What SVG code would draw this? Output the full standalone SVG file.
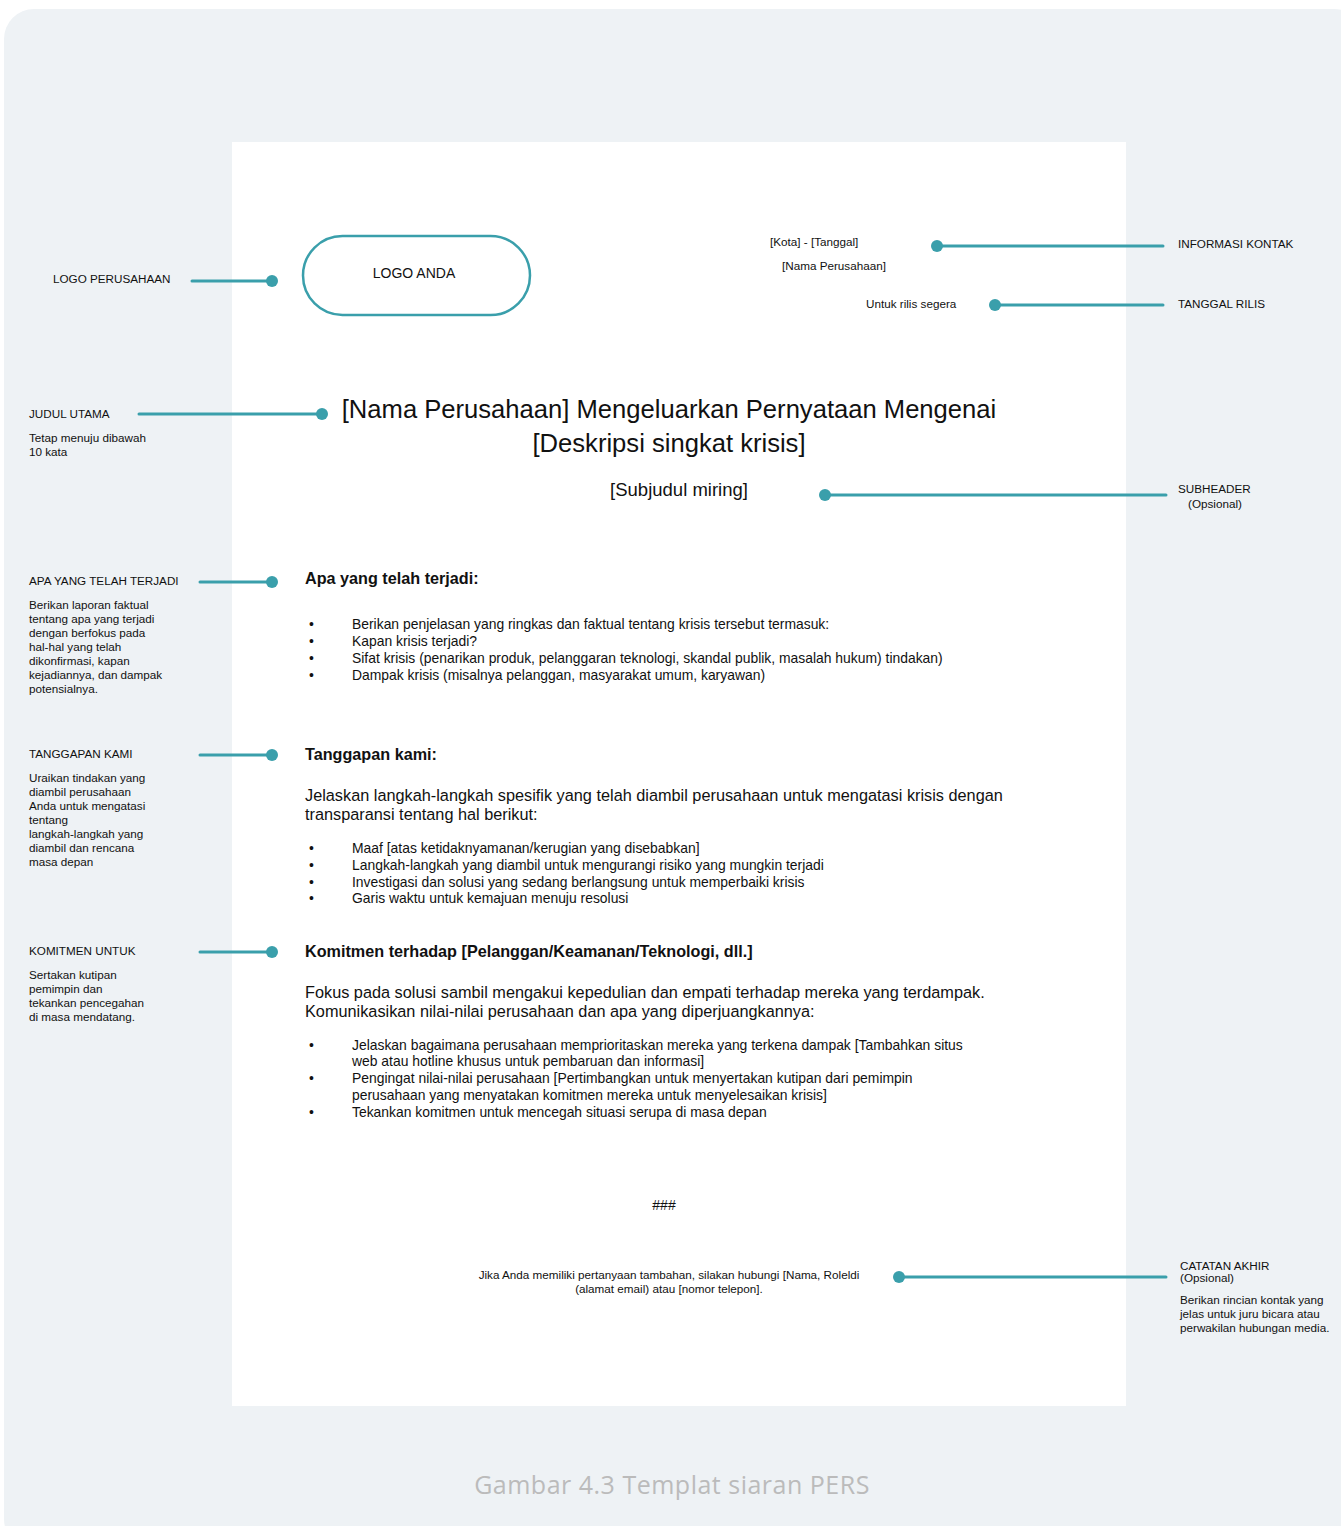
<svg xmlns="http://www.w3.org/2000/svg" width="1341" height="1526" viewBox="0 0 1341 1526">
  <style>
    text { font-family: "Liberation Sans", Arial, sans-serif; fill: #111; }
    .lbl { font-size: 11.7px; }
    .note { font-size: 11.7px; }
    .small { font-size: 11.7px; }
    .body { font-size: 13.9px; }
    .para { font-size: 16.3px; }
    .head { font-size: 16.2px; font-weight: bold; }
    .title { font-size: 25.6px; }
    .sub { font-size: 18.5px; }
    .caption { font-family: "Open Sans", "Noto Sans", sans-serif; font-size: 25px; fill: #BBBBBB; letter-spacing: 0.5px; }
    .conn line { stroke: #3A9FAB; stroke-width: 3; stroke-linecap: round; }
    .conn circle { fill: #3A9FAB; }
  </style>

  <!-- backdrop and page -->
  <rect x="4" y="9" width="1360" height="1540" rx="30" fill="#EEF2F5"/>
  <rect x="232" y="142" width="894" height="1264" fill="#FFFFFF"/>

  <!-- connectors -->
  <g id="connectors" class="conn">
    <line x1="192" y1="281" x2="272" y2="281"/><circle cx="272" cy="281" r="6"/>
    <line x1="937" y1="246" x2="1163" y2="246"/><circle cx="937" cy="246" r="6"/>
    <line x1="995" y1="305" x2="1163" y2="305"/><circle cx="995" cy="305" r="6"/>
    <line x1="139" y1="414" x2="322" y2="414"/><circle cx="322" cy="414" r="6"/>
    <line x1="825" y1="495" x2="1166" y2="495"/><circle cx="825" cy="495" r="6"/>
    <line x1="200" y1="582" x2="272" y2="582"/><circle cx="272" cy="582" r="6"/>
    <line x1="200" y1="755" x2="272" y2="755"/><circle cx="272" cy="755" r="6"/>
    <line x1="200" y1="952" x2="272" y2="952"/><circle cx="272" cy="952" r="6"/>
    <line x1="899" y1="1277" x2="1166" y2="1277"/><circle cx="899" cy="1277" r="6"/>
  </g>

  <!-- logo -->
  <g id="logo-perusahaan">
    <text class="lbl" x="53" y="283">LOGO PERUSAHAAN</text>
  </g>
  <g id="logo-anda">
    <rect x="303" y="236" width="227" height="79" rx="39.5" fill="#FFFFFF" stroke="#3A9FAB" stroke-width="2.5"/>
    <text x="414" y="278" font-size="14" text-anchor="middle">LOGO ANDA</text>
  </g>

  <!-- contact / date -->
  <g id="kontak">
    <text class="small" x="770" y="246">[Kota] - [Tanggal]</text>
    <text class="small" x="782" y="270">[Nama Perusahaan]</text>
  </g>
  <g id="informasi-kontak">
    <text class="lbl" x="1178" y="248">INFORMASI KONTAK</text>
  </g>
  <g id="rilis">
    <text class="small" x="866" y="308">Untuk rilis segera</text>
  </g>
  <g id="tanggal-rilis">
    <text class="lbl" x="1178" y="308">TANGGAL RILIS</text>
  </g>

  <!-- main title -->
  <g id="judul-utama">
    <text class="lbl" x="29" y="418">JUDUL UTAMA</text>
    <text class="note" x="29" y="442">Tetap menuju dibawah</text>
    <text class="note" x="29" y="456">10 kata</text>
  </g>
  <g id="judul">
    <text class="title" x="669" y="418" text-anchor="middle">[Nama Perusahaan] Mengeluarkan Pernyataan Mengenai</text>
    <text class="title" x="669" y="452" text-anchor="middle">[Deskripsi singkat krisis]</text>
  </g>

  <!-- subheader -->
  <g id="subjudul">
    <text class="sub" x="679" y="496" text-anchor="middle">[Subjudul miring]</text>
  </g>
  <g id="subheader">
    <text class="lbl" x="1178" y="493">SUBHEADER</text>
    <text class="lbl" x="1188" y="508">(Opsional)</text>
  </g>

  <!-- section 1 -->
  <g id="apa-yang-telah-terjadi">
    <text class="lbl" x="29" y="585">APA YANG TELAH TERJADI</text>
    <text class="note" x="29" y="609">Berikan laporan faktual</text>
    <text class="note" x="29" y="623">tentang apa yang terjadi</text>
    <text class="note" x="29" y="637">dengan berfokus pada</text>
    <text class="note" x="29" y="651">hal-hal yang telah</text>
    <text class="note" x="29" y="665">dikonfirmasi, kapan</text>
    <text class="note" x="29" y="679">kejadiannya, dan dampak</text>
    <text class="note" x="29" y="693">potensialnya.</text>
  </g>
  <g id="bagian-terjadi">
    <text class="head" x="305" y="584">Apa yang telah terjadi:</text>
    <g class="body">
      <text x="309" y="629">•</text><text x="352" y="629">Berikan penjelasan yang ringkas dan faktual tentang krisis tersebut termasuk:</text>
      <text x="309" y="646">•</text><text x="352" y="646">Kapan krisis terjadi?</text>
      <text x="309" y="663">•</text><text x="352" y="663">Sifat krisis (penarikan produk, pelanggaran teknologi, skandal publik, masalah hukum) tindakan)</text>
      <text x="309" y="680">•</text><text x="352" y="680">Dampak krisis (misalnya pelanggan, masyarakat umum, karyawan)</text>
    </g>
  </g>

  <!-- section 2 -->
  <g id="tanggapan-kami">
    <text class="lbl" x="29" y="758">TANGGAPAN KAMI</text>
    <text class="note" x="29" y="782">Uraikan tindakan yang</text>
    <text class="note" x="29" y="796">diambil perusahaan</text>
    <text class="note" x="29" y="810">Anda untuk mengatasi</text>
    <text class="note" x="29" y="824">tentang</text>
    <text class="note" x="29" y="838">langkah-langkah yang</text>
    <text class="note" x="29" y="852">diambil dan rencana</text>
    <text class="note" x="29" y="866">masa depan</text>
  </g>
  <g id="bagian-tanggapan">
    <text class="head" x="305" y="760">Tanggapan kami:</text>
    <text class="para" x="305" y="801">Jelaskan langkah-langkah spesifik yang telah diambil perusahaan untuk mengatasi krisis dengan</text>
    <text class="para" x="305" y="820">transparansi tentang hal berikut:</text>
    <g class="body">
      <text x="309" y="853">•</text><text x="352" y="853">Maaf [atas ketidaknyamanan/kerugian yang disebabkan]</text>
      <text x="309" y="870">•</text><text x="352" y="870">Langkah-langkah yang diambil untuk mengurangi risiko yang mungkin terjadi</text>
      <text x="309" y="887">•</text><text x="352" y="887">Investigasi dan solusi yang sedang berlangsung untuk memperbaiki krisis</text>
      <text x="309" y="903">•</text><text x="352" y="903">Garis waktu untuk kemajuan menuju resolusi</text>
    </g>
  </g>

  <!-- section 3 -->
  <g id="komitmen-untuk">
    <text class="lbl" x="29" y="955">KOMITMEN UNTUK</text>
    <text class="note" x="29" y="979">Sertakan kutipan</text>
    <text class="note" x="29" y="993">pemimpin dan</text>
    <text class="note" x="29" y="1007">tekankan pencegahan</text>
    <text class="note" x="29" y="1021">di masa mendatang.</text>
  </g>
  <g id="bagian-komitmen">
    <text class="head" x="305" y="957">Komitmen terhadap [Pelanggan/Keamanan/Teknologi, dll.]</text>
    <text class="para" x="305" y="998">Fokus pada solusi sambil mengakui kepedulian dan empati terhadap mereka yang terdampak.</text>
    <text class="para" x="305" y="1017">Komunikasikan nilai-nilai perusahaan dan apa yang diperjuangkannya:</text>
    <g class="body">
      <text x="309" y="1050">•</text><text x="352" y="1050">Jelaskan bagaimana perusahaan memprioritaskan mereka yang terkena dampak [Tambahkan situs</text>
      <text x="352" y="1066">web atau hotline khusus untuk pembaruan dan informasi]</text>
      <text x="309" y="1083">•</text><text x="352" y="1083">Pengingat nilai-nilai perusahaan [Pertimbangkan untuk menyertakan kutipan dari pemimpin</text>
      <text x="352" y="1100">perusahaan yang menyatakan komitmen mereka untuk menyelesaikan krisis]</text>
      <text x="309" y="1117">•</text><text x="352" y="1117">Tekankan komitmen untuk mencegah situasi serupa di masa depan</text>
    </g>
  </g>

  <!-- closing -->
  <g id="penutup">
    <text x="664" y="1210" font-size="14" text-anchor="middle">###</text>
    <text class="small" x="669" y="1279" text-anchor="middle">Jika Anda memiliki pertanyaan tambahan, silakan hubungi [Nama, Roleldi</text>
    <text class="small" x="669" y="1293" text-anchor="middle">(alamat email) atau [nomor telepon].</text>
  </g>
  <g id="catatan-akhir">
    <text class="lbl" x="1180" y="1270">CATATAN AKHIR</text>
    <text class="lbl" x="1180" y="1282">(Opsional)</text>
    <text class="note" x="1180" y="1304">Berikan rincian kontak yang</text>
    <text class="note" x="1180" y="1318">jelas untuk juru bicara atau</text>
    <text class="note" x="1180" y="1332">perwakilan hubungan media.</text>
  </g>

  <!-- caption -->
  <text class="caption" x="672" y="1494" text-anchor="middle">Gambar 4.3 Templat siaran PERS</text>
</svg>
